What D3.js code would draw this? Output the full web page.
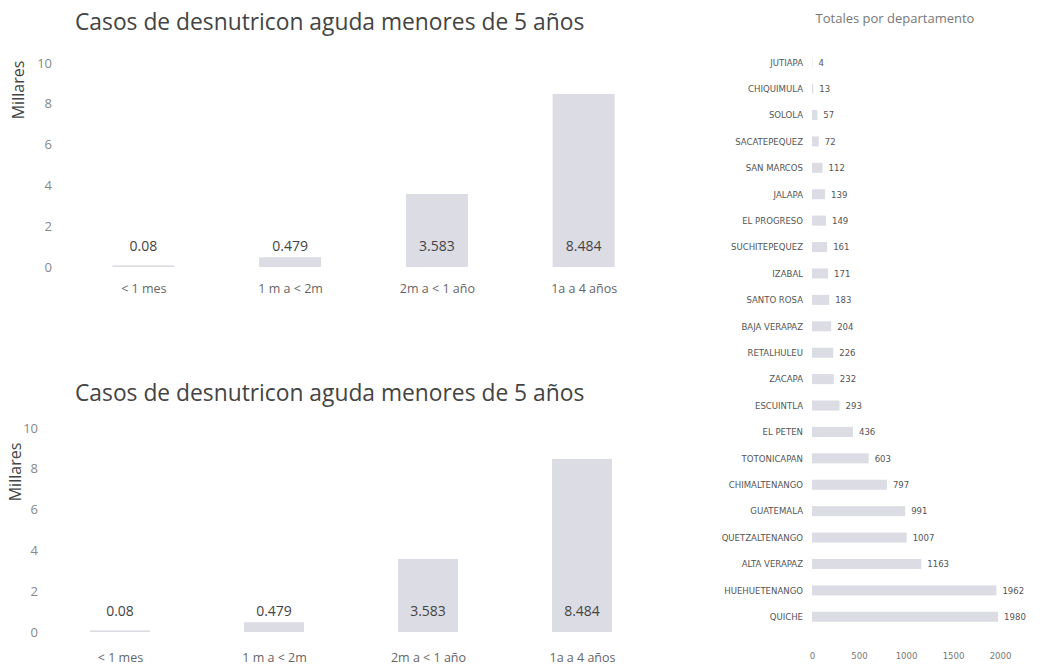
<!DOCTYPE html>
<html>
<head>
<meta charset="utf-8">
<script src="https://cdn.jsdelivr.net/npm/d3@7/dist/d3.min.js"></script>
<style>
  html, body { margin: 0; padding: 0; background: #fff; }
  svg { display: block; }
</style>
</head>
<body>
<svg id="chart" width="1040" height="670"></svg>
<script>
// ---- data ----
const ageGroups = ["< 1 mes", "1 m a < 2m", "2m a < 1 año", "1a a 4 años"];
const casesThousands = [0.08, 0.479, 3.583, 8.484];
const yTicks = [0, 2, 4, 6, 8, 10];
const chartTitle = "Casos de desnutricon aguda menores de 5 años";
const yAxisTitle = "Millares";

const departments = ["JUTIAPA", "CHIQUIMULA", "SOLOLA", "SACATEPEQUEZ", "SAN MARCOS", "JALAPA",
  "EL PROGRESO", "SUCHITEPEQUEZ", "IZABAL", "SANTO ROSA", "BAJA VERAPAZ", "RETALHULEU",
  "ZACAPA", "ESCUINTLA", "EL PETEN", "TOTONICAPAN", "CHIMALTENANGO", "GUATEMALA",
  "QUETZALTENANGO", "ALTA VERAPAZ", "HUEHUETENANGO", "QUICHE"];
const deptTotals = [4, 13, 57, 72, 112, 139, 149, 161, 171, 183, 204, 226,
  232, 293, 436, 603, 797, 991, 1007, 1163, 1962, 1980];
const deptTicks = [0, 500, 1000, 1500, 2000];
const deptTitle = "Totales por departamento";

// ---- drawing ----
const svg = d3.select("#chart");
const barFill = "#dcdce4";
const sans = "'Open Sans', 'Noto Sans', sans-serif";

function drawColumnChart(cfg) {
  const g = svg.append("g");
  const x = d3.scalePoint().domain(ageGroups).range(cfg.xRange).padding(0.5);
  const y = d3.scaleLinear().domain([0, 10]).range([cfg.y0, cfg.y10]);

  g.append("text").attr("x", cfg.titleX).attr("y", cfg.titleY)
    .attr("font-family", sans).attr("font-size", 22.8).attr("fill", "#444")
    .text(chartTitle);

  g.append("text")
    .attr("transform", `translate(${cfg.yTitleX},${cfg.yTitleY}) rotate(-90)`)
    .attr("text-anchor", "middle").attr("font-family", sans)
    .attr("font-size", 16).attr("fill", "#444").text(yAxisTitle);

  const yAxis = d3.axisLeft(y).tickValues(yTicks).tickSize(0).tickPadding(0);
  const ya = g.append("g").attr("transform", `translate(${cfg.tickX},0)`).call(yAxis);
  ya.select(".domain").remove();
  ya.selectAll("text").attr("font-family", sans).attr("font-size", 13).attr("fill", "#888");

  g.selectAll("rect.bar").data(casesThousands).join("rect")
    .attr("class", "bar")
    .attr("x", (d, i) => x(ageGroups[i]) - cfg.barW / 2)
    .attr("width", cfg.barW)
    .attr("y", d => y(d))
    .attr("height", d => y(0) - y(d))
    .attr("fill", barFill);

  g.selectAll("text.val").data(casesThousands).join("text")
    .attr("class", "val")
    .attr("x", (d, i) => x(ageGroups[i]))
    .attr("y", y(0) - 16)
    .attr("text-anchor", "middle").attr("font-family", sans)
    .attr("font-size", 14).attr("fill", "#444")
    .text(d => String(d));

  const xAxis = d3.axisBottom(x).tickSize(0).tickPadding(0);
  const xa = g.append("g").attr("transform", `translate(0,${cfg.xLabelY})`).call(xAxis);
  xa.select(".domain").remove();
  xa.selectAll("text").attr("font-family", sans).attr("font-size", 12.5).attr("fill", "#666");
}

drawColumnChart({ xRange: [70, 657], y0: 267, y10: 63, barW: 62, titleX: 75, titleY: 30,
  yTitleX: 24, yTitleY: 90, tickX: 52, xLabelY: 284 });
drawColumnChart({ xRange: [43, 659], y0: 632, y10: 428, barW: 60, titleX: 75, titleY: 401,
  yTitleX: 21, yTitleY: 472, tickX: 38, xLabelY: 653 });

// ---- right: horizontal bars ----
(function () {
  const g = svg.append("g");
  const narrow = "'Liberation Sans Narrow', 'DejaVu Sans Condensed', 'Liberation Sans', sans-serif";
  const x = d3.scaleLinear().domain([0, 2000]).range([812, 1000]);
  const y = d3.scaleBand().domain(departments).range([49, 630]).paddingInner(0.62).paddingOuter(0.31);

  g.append("text").attr("x", 895).attr("y", 23).attr("text-anchor", "middle")
    .attr("font-family", sans).attr("font-size", 13).attr("fill", "#777").text(deptTitle);

  g.selectAll("text.dept").data(departments).join("text")
    .attr("class", "dept").attr("x", 803).attr("y", d => y(d) + y.bandwidth() / 2)
    .attr("dy", "0.35em").attr("text-anchor", "end")
    .attr("font-family", narrow).attr("font-size", 9.5).attr("fill", "#555").text(d => d);

  g.selectAll("rect.hb").data(deptTotals).join("rect")
    .attr("class", "hb").attr("x", x(0))
    .attr("y", (d, i) => y(departments[i]))
    .attr("height", y.bandwidth())
    .attr("width", d => x(d) - x(0))
    .attr("fill", barFill);

  g.selectAll("text.hv").data(deptTotals).join("text")
    .attr("class", "hv").attr("x", d => x(d) + 6)
    .attr("y", (d, i) => y(departments[i]) + y.bandwidth() / 2)
    .attr("dy", "0.35em").attr("font-family", narrow).attr("font-size", 9.5)
    .attr("fill", "#555").text(d => d);

  const xAxis = d3.axisBottom(x).tickValues(deptTicks).tickFormat(d3.format("d"))
    .tickSize(0).tickPadding(0);
  const xa = g.append("g").attr("transform", "translate(0,652)").call(xAxis);
  xa.select(".domain").remove();
  xa.selectAll("text").attr("font-family", narrow).attr("font-size", 9.5).attr("fill", "#777");
})();
</script>
</body>
</html>
